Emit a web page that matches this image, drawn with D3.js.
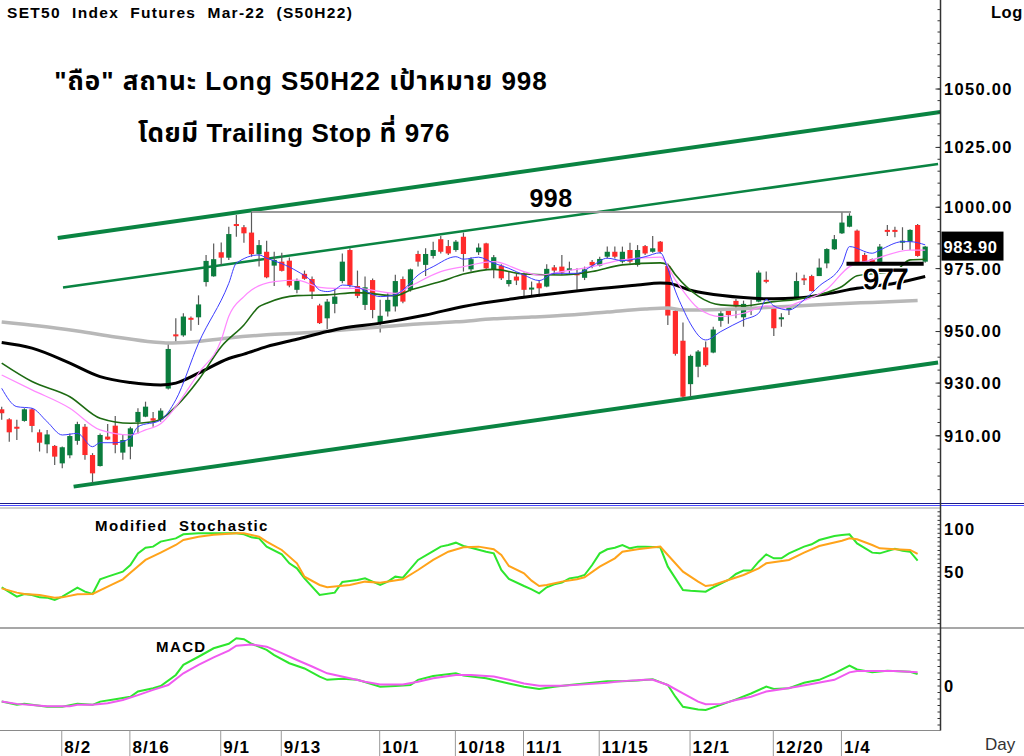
<!DOCTYPE html>
<html>
<head>
<meta charset="utf-8">
<script src="https://cdn.jsdelivr.net/npm/d3@7"></script>
<style>
  body { margin: 0; background: #fff; }
  svg { display: block; font-family: "Liberation Sans", Arial, sans-serif; }
</style>
</head>
<body>
<svg id="chart" width="1024" height="756"></svg>
<script>
// --- data ---
var dates = ["8/2", "8/16", "9/1", "9/13", "10/1", "10/18", "11/1", "11/15", "12/1", "12/20", "1/4"];
var dateBars = [8, 17, 29, 37, 50, 60, 69, 79, 91, 102, 111];

var opens = [920.0,916.2,913.4,915.6,920.0,911.3,906.8,906.2,899.7,902.7,908.1,913.4,902.8,898.7,909.7,913.8,903.7,905.9,915.2,917.2,
  916.6,916.2,927.9,948.9,948.5,955.4,955.6,969.6,971.9,981.6,979.4,993.1,991.8,989.6,980.8,981.8,976.2,977.8,978.2,966.5,
  972.9,970.8,960.3,955.2,960.9,970.0,982.5,968.0,960.5,970.4,953.6,957.9,959.9,970.8,966.5,980.9,976.5,980.1,986.9,984.1,
  982.5,987.9,974.7,981.6,985.2,974.7,976.2,968.8,971.8,972.9,967.1,969.1,967.8,975.5,975.8,974.9,973.1,971.3,977.7,976.2,
  979.8,981.8,977.8,982.5,976.5,984.1,981.8,985.9,976.1,958.1,946.4,929.6,936.3,943.8,941.8,954.2,958.8,962.1,955.6,959.2,
  961.8,970.5,960.1,955.1,959.2,962.9,971.1,972.0,972.0,977.1,982.8,989.3,992.0,990.4,980.5,978.8,977.7,990.7,990.7,985.5,
  985.9,992.7,977.8];
var highs = [921.0,916.6,916.0,920.4,920.4,912.4,912.2,906.5,906.0,910.9,915.3,914.4,903.5,910.9,914.4,917.5,910.3,913.4,920.4,922.9,
  919.0,920.4,945.4,955.2,957.2,955.9,964.3,980.5,985.2,985.6,992.0,996.8,992.7,998.0,986.6,986.3,981.8,981.4,979.5,971.0,
  974.2,971.8,961.0,962.8,966.7,981.1,983.2,974.2,971.8,971.0,962.5,965.1,972.5,971.8,975.0,982.2,983.2,985.9,988.2,986.6,
  986.6,989.6,979.6,985.2,985.5,980.5,976.8,973.8,972.9,973.4,969.8,970.4,976.8,976.5,980.5,977.8,975.1,975.8,978.5,979.8,
  983.9,983.9,983.9,985.5,984.5,984.5,988.2,986.2,977.1,958.5,953.6,941.0,942.8,946.1,951.9,958.5,959.2,962.8,962.2,962.5,
  974.2,973.8,960.5,957.2,960.5,973.4,972.5,972.5,979.1,983.2,988.6,997.8,997.5,990.9,981.4,979.1,985.0,992.7,992.0,991.8,
  991.0,993.1,984.1];
var lows = [916.0,907.8,908.4,915.3,911.3,904.1,903.5,899.1,897.9,901.6,906.6,901.0,892.5,898.5,908.4,903.5,901.0,901.2,910.9,917.0,
  913.4,915.3,927.5,945.4,948.0,950.3,952.6,967.8,971.7,976.5,978.5,987.9,985.5,979.8,975.8,971.1,968.0,973.8,967.5,965.1,
  970.5,962.8,953.0,951.0,957.2,969.1,967.5,963.2,958.5,955.2,949.6,955.9,957.9,961.2,965.8,975.8,972.0,979.1,981.1,980.5,
  981.8,973.8,973.8,980.5,974.4,971.1,970.4,967.8,968.4,963.6,963.8,963.6,967.5,972.5,972.5,972.5,966.5,970.4,975.1,975.8,
  979.1,979.1,977.1,977.1,975.8,980.5,981.4,981.1,952.6,940.6,924.1,924.8,932.2,936.3,941.5,951.9,953.1,955.2,951.9,956.5,
  961.6,969.1,948.3,951.9,956.5,962.9,968.4,965.8,972.0,975.1,982.5,989.0,991.8,977.1,977.4,977.1,977.1,988.2,987.7,982.5,
  982.5,979.8,977.4];
var closes = [918.5,911.3,912.7,920.0,913.7,907.4,910.5,902.2,905.7,909.9,914.4,902.8,896.0,910.3,908.6,906.6,908.4,912.8,919.0,921.0,
  915.7,919.5,943.2,948.5,955.9,955.0,960.7,978.1,978.8,979.4,989.0,992.7,989.3,980.8,984.5,971.5,978.5,974.1,968.2,970.0,
  970.9,965.8,953.3,961.8,963.8,977.8,968.4,964.1,967.5,958.5,956.2,962.5,970.0,961.8,974.7,977.8,980.9,982.5,981.8,981.1,
  985.9,980.9,978.8,983.5,975.1,979.6,971.1,970.4,970.2,966.5,967.4,967.1,974.9,974.2,973.4,975.1,973.0,974.7,976.3,978.9,
  981.8,979.8,981.8,977.8,982.5,981.1,983.2,981.8,956.3,941.3,924.8,940.5,942.2,936.9,950.8,957.2,956.5,959.9,960.9,959.6,
  973.4,970.3,951.3,955.6,959.3,970.0,970.4,966.0,975.4,982.9,986.9,993.7,996.5,977.4,977.8,977.4,983.9,990.3,990.3,986.3,
  990.7,980.1,983.9];

// moving averages as [bar, value]
var maBlue = [[0,928.0],[2,921.0],[4,920.4],[6,915.3],[8,910.3],[10,910.9],[12,905.9],[13,907.4],[15,907.4],[17,909.1],[18,913.4],
  [21,915.9],[23,923.6],[26,945.4],[30,969.1],[31,977.2],[34,980.5],[35,979.2],[37,977.0],[39,974.0],[41,969.8],[42,966.4],
  [43,965.8],[44,966.5],[45,968.4],[47,967.5],[50,963.8],[52,964.5],[53,966.4],[55,972.4],[57,975.8],[60,979.8],[61,978.8],
  [63,979.6],[65,977.2],[67,975.1],[69,972.4],[71,970.2],[73,973.1],[76,973.1],[78,976.1],[80,979.2],[82,978.2],[85,979.8],
  [87,981.4],[88,975.0],[89,966.0],[90,959.0],[91,953.0],[93,946.7],[95,950.0],[98,954.6],[100,957.2],[101,962.7],[102,960.1],
  [104,958.5],[106,962.5],[108,968.0],[111,976.5],[112,983.9],[115,981.2],[116,982.5],[119,985.9],[120,985.9],[122,984.6]];
var maPink = [[0,933.1],[4,927.4],[9,920.4],[13,912.2],[17,910.3],[19,912.2],[21,914.5],[23,921.0],[26,933.8],[29,946.7],[30,956.0],
  [32,963.8],[33,966.4],[36,969.8],[39,970.4],[42,967.5],[44,967.1],[47,967.1],[52,965.1],[54,968.0],[58,973.8],[61,975.8],
  [65,977.8],[69,973.8],[71,972.4],[74,973.8],[78,975.8],[82,978.5],[87,979.6],[89,970.4],[92,959.2],[95,955.9],[98,957.2],
  [101,960.1],[103,959.2],[105,961.2],[109,966.7],[112,975.8],[115,978.5],[120,982.5],[122,982.5]];
var maDkGreen = [[0,937.7],[4,930.6],[9,924.8],[13,916.6],[17,914.7],[20,915.3],[21,916.2],[23,921.0],[26,931.2],[29,944.1],
  [32,952.6],[34,959.8],[35,961.2],[39,964.2],[43,964.5],[47,965.4],[52,964.2],[54,966.4],[58,969.8],[61,972.8],[65,974.7],
  [69,972.8],[74,972.4],[78,973.8],[82,976.5],[87,977.3],[88,976.5],[89,972.5],[92,964.0],[95,960.5],[98,960.1],[102,961.8],
  [105,962.7],[109,965.4],[111,967.8],[113,972.1],[118,974.0],[120,978.5],[122,978.8]];
var maBlack = [[0,945.7],[4,943.5],[9,937.7],[13,932.5],[17,930.2],[21,929.3],[23,930.0],[26,933.8],[30,939.5],[32,941.2],
  [35,944.1],[39,947.0],[43,950.0],[45,951.3],[50,953.3],[56,956.5],[61,959.9],[69,963.5],[78,966.7],[84,968.4],[87,969.2],
  [88,969.1],[91,966.3],[93,965.1],[98,963.4],[102,962.9],[105,963.2],[109,964.9],[113,967.1],[118,969.1],[122,971.8]];
var maGray = [[0,953.8],[5,952.2],[10,950.2],[15,947.9],[20,945.9],[22,945.5],[25,945.9],[30,947.5],[35,948.7],[40,949.5],
  [45,950.6],[50,951.8],[55,953.0],[60,953.8],[65,955.0],[70,955.7],[75,956.5],[80,957.7],[85,958.9],[88,959.3],[90,958.5],
  [95,958.7],[100,959.3],[105,960.1],[110,960.9],[115,961.5],[121,962.2]];

// Modified Stochastic %K (green) and %D (orange)
var stochK = [[0,32.2],[2,21.3],[3,24.4],[4,23.3],[5,20.5],[6,20.2],[7,17.4],[8,21.3],[10,31.8],[11,27.1],[12,24.4],[13,41.5],
  [14,44.6],[16,50.4],[17,58.1],[18,71.7],[19,78.3],[20,79.5],[21,85.3],[23,89.1],[24,93.8],[26,95.0],[28,95.0],[31,95.0],
  [32,93.8],[33,90.3],[34,89.1],[35,79.5],[37,70.5],[38,60.1],[39,54.3],[40,42.6],[42,23.3],[44,26.0],[45,38.4],[46,39.5],
  [47,40.7],[48,42.6],[49,38.8],[50,34.9],[51,38.8],[52,44.6],[53,43.4],[55,64.0],[57,74.4],[58,79.5],[59,81.4],[60,84.1],
  [61,80.2],[62,78.3],[64,73.6],[65,71.7],[66,52.3],[67,42.0],[69,33.7],[70,29.8],[71,25.2],[72,32.2],[73,35.7],[74,37.6],
  [75,42.6],[76,43.8],[77,46.5],[78,58.1],[79,71.7],[80,76.4],[81,78.3],[82,81.4],[83,77.5],[84,79.5],[85,79.5],[87,78.7],
  [88,56.2],[90,29.1],[91,28.3],[93,27.1],[94,32.2],[96,40.7],[97,47.7],[98,51.6],[99,51.6],[100,62.0],[101,70.5],[102,65.9],
  [103,65.9],[104,71.7],[106,79.5],[107,82.2],[108,87.2],[110,91.9],[111,93.0],[112,93.8],[113,83.3],[115,72.5],[116,71.7],
  [118,77.1],[119,74.8],[120,73.6],[121,63.2]];
var stochD = [[0,31.0],[2,26.0],[3,24.4],[5,23.3],[7,20.2],[8,20.5],[10,24.0],[12,24.4],[14,32.9],[16,41.5],[17,49.2],[19,64.0],
  [21,72.5],[23,81.4],[24,87.2],[26,91.1],[28,93.4],[31,95.0],[32,95.0],[34,91.1],[35,85.3],[37,75.6],[39,60.1],[40,44.6],
  [42,34.9],[43,32.2],[46,34.9],[48,38.8],[50,37.6],[53,41.5],[55,52.3],[57,64.0],[59,73.6],[61,78.7],[63,79.5],[65,76.4],
  [66,69.8],[67,57.0],[69,48.4],[70,39.9],[71,33.7],[72,34.9],[74,38.8],[76,41.5],[77,43.8],[79,56.2],[81,65.9],[82,73.6],
  [84,76.4],[87,79.5],[88,69.8],[90,50.4],[92,38.8],[93,33.7],[94,34.9],[96,40.7],[98,46.5],[100,54.3],[101,60.1],[104,64.0],
  [106,72.5],[108,80.2],[111,86.4],[112,89.1],[113,88.0],[115,81.4],[116,77.5],[118,76.4],[120,75.6],[121,71.0]];

// MACD (green) and signal (magenta)
var macd = [[0,-4.8],[2,-5.8],[3,-5.5],[6,-6.4],[8,-6.4],[10,-5.5],[12,-5.8],[13,-4.8],[15,-4.1],[17,-3.3],[18,-1.7],[20,-0.7],
  [21,0.0],[23,3.4],[24,6.5],[26,9.0],[28,11.6],[30,13.0],[31,14.7],[32,14.4],[33,13.0],[35,11.1],[36,9.5],[38,7.0],[40,5.4],
  [42,2.9],[43,1.9],[45,2.2],[47,1.9],[50,-0.2],[52,0.0],[54,0.3],[55,1.9],[57,3.1],[60,3.9],[61,3.2],[64,2.4],[66,1.3],
  [67,0.8],[69,-0.2],[71,-0.9],[73,-0.2],[75,0.3],[77,0.8],[80,1.5],[82,1.5],[84,1.7],[86,2.1],[88,0.3],[89,-3.3],[90,-6.4],
  [92,-7.2],[93,-7.4],[95,-5.8],[97,-4.1],[99,-2.3],[101,-0.2],[102,-0.9],[104,-0.7],[106,1.0],[108,1.9],[110,3.9],[112,6.3],
  [113,5.1],[115,4.2],[117,4.7],[120,4.4],[121,3.7]];
var macdSignal = [[0,-4.8],[2,-5.5],[6,-6.2],[9,-6.2],[10,-5.8],[12,-5.8],[14,-5.3],[16,-4.3],[18,-2.8],[20,-1.2],[22,0.3],
  [24,3.9],[26,6.5],[28,8.8],[30,10.9],[31,12.4],[33,12.8],[35,12.1],[37,10.1],[39,8.0],[41,6.0],[43,3.9],[46,2.4],[48,1.3],
  [50,0.5],[53,0.5],[55,1.3],[57,2.4],[60,3.4],[62,3.4],[65,2.9],[67,1.9],[69,0.8],[71,0.1],[74,0.1],[77,0.5],[80,1.0],
  [82,1.5],[85,1.9],[86,1.9],[88,0.3],[90,-2.3],[92,-4.8],[93,-5.6],[95,-5.5],[97,-4.3],[99,-3.3],[101,-1.7],[103,-1.0],
  [105,-0.2],[107,0.6],[110,1.9],[112,4.2],[113,4.6],[116,4.6],[118,4.6],[121,4.2]];

// trend channel lines: [bar, price] -> [bar, price]
var channels = [
  [[7.4, 987.4], [124, 1040.1]],
  [[8.1, 967.4], [123.7, 1018.0]],
  [[9.5, 891.1], [123.7, 937.9]]
];
var channelWidths = [4, 2.5, 4];
var resistance = {price: 998, from: 33, to: 112.2, label: "998"};
var support = {price: 977, from: 111.6, to: 121.8, label: "977"};
var lastPrice = 983.90;

var priceTicks = [1050, 1025, 1000, 975, 950, 930, 910];
var stochTicks = [100, 50];
var macdTicks = [0];

// --- drawing ---
var svg = d3.select("#chart");
var W = 1024, axisX = 940.5;
var mainBottom = 503, stTop = 508, stBottom = 628, mcTop = 629, mcBottom = 730.5;

var x = d3.scaleLinear().domain([0, 122]).range([1.7, 925.2]);
var y = d3.scaleLog().domain([885.1, 1089.3]).range([mainBottom, 0]);
var ys = d3.scaleLinear().domain([0, 100]).range([615, 529]);
var ym = d3.scaleLinear().domain([0, 10]).range([686, 653.5]);

var boldStyle = function(sel, size, spacing) {
  return sel.attr("font-size", size).attr("font-weight", "bold").attr("letter-spacing", spacing);
};

// clip plot areas
var defs = svg.append("defs");
defs.append("clipPath").attr("id", "clipMain").append("rect").attr("x", 0).attr("y", 0).attr("width", axisX).attr("height", mainBottom);
defs.append("clipPath").attr("id", "clipSt").append("rect").attr("x", 0).attr("y", stTop).attr("width", axisX).attr("height", stBottom - stTop);
defs.append("clipPath").attr("id", "clipMc").append("rect").attr("x", 0).attr("y", mcTop).attr("width", axisX).attr("height", mcBottom - mcTop);

var main = svg.append("g").attr("clip-path", "url(#clipMain)");

// channel lines
channels.forEach(function(c, i) {
  main.append("line")
    .attr("x1", x(c[0][0])).attr("y1", y(c[0][1]))
    .attr("x2", x(c[1][0])).attr("y2", y(c[1][1]))
    .attr("stroke", "#0a8442").attr("stroke-width", channelWidths[i]);
});

// resistance 998
main.append("line")
  .attr("x1", x(resistance.from)).attr("x2", x(resistance.to))
  .attr("y1", y(resistance.price)).attr("y2", y(resistance.price))
  .attr("stroke", "#999").attr("stroke-width", 2);

var lineFn = function(ys_) {
  return d3.line().x(function(d) { return x(d[0]); }).y(function(d) { return ys_(d[1]); }).curve(d3.curveMonotoneX);
};
var maList = [
  [maGray, "#b8b8b8", 3.5],
  [maBlack, "#000", 3],
  [maDkGreen, "#1d6a12", 1.6],
  [maPink, "#ff88ff", 1.2],
  [maBlue, "#3d3dff", 1]
];

// candles
var bars = d3.range(opens.length);
main.selectAll(".wick").data(bars).enter().append("line")
  .attr("class", "wick")
  .attr("x1", function(i) { return x(i); }).attr("x2", function(i) { return x(i); })
  .attr("y1", function(i) { return y(highs[i]); }).attr("y2", function(i) { return y(lows[i]); })
  .attr("stroke", "#5a5a5a").attr("stroke-width", 1.2);
main.selectAll(".body").data(bars).enter().append("rect")
  .attr("class", "body")
  .attr("x", function(i) { return x(i) - 2.6; })
  .attr("width", 5.2)
  .attr("y", function(i) { return y(Math.max(opens[i], closes[i])); })
  .attr("height", function(i) { return Math.max(2, y(Math.min(opens[i], closes[i])) - y(Math.max(opens[i], closes[i]))); })
  .attr("fill", function(i) { return closes[i] >= opens[i] ? "#0b7d3e" : "#ff2b2b"; });

// moving averages over the candles
maList.forEach(function(m) {
  main.append("path").datum(m[0]).attr("d", lineFn(y))
    .attr("fill", "none").attr("stroke", m[1]).attr("stroke-width", m[2]);
});

// support 977
main.append("line")
  .attr("x1", x(support.from)).attr("x2", x(support.to))
  .attr("y1", y(support.price)).attr("y2", y(support.price))
  .attr("stroke", "#000").attr("stroke-width", 4);

// labels on the main panel
boldStyle(svg.append("text"), 25, 0.5)
  .attr("x", 551).attr("y", 207).attr("text-anchor", "middle").text(resistance.label);
svg.append("text")
  .attr("x", 885).attr("y", 289).attr("text-anchor", "middle")
  .attr("font-size", 29).attr("letter-spacing", -1.5).attr("fill", "#000")
  .attr("stroke", "#fff").attr("stroke-width", 4).attr("paint-order", "stroke")
  .text(support.label);
svg.append("text")
  .attr("x", 885).attr("y", 289).attr("text-anchor", "middle")
  .attr("font-size", 29).attr("letter-spacing", -1.5).attr("fill", "#000")
  .attr("stroke", "#000").attr("stroke-width", 0.9)
  .text(support.label);

boldStyle(svg.append("text"), 15.5, 1.3).attr("x", 7).attr("y", 18)
  .text("SET50\u00a0\u00a0Index\u00a0\u00a0Futures\u00a0\u00a0Mar-22\u00a0\u00a0(S50H22)");
var thaiFont = "'Liberation Sans', Arial, Tahoma, 'Noto Sans Thai', sans-serif";
boldStyle(svg.append("text"), 26, 1).attr("x", 301).attr("y", 90).attr("text-anchor", "middle")
  .attr("font-family", thaiFont)
  .text('"ถือ" สถานะ Long S50H22 เป้าหมาย 998');
boldStyle(svg.append("text"), 26, 0.6).attr("x", 294).attr("y", 142).attr("text-anchor", "middle")
  .attr("font-family", thaiFont)
  .text("โดยมี Trailing Stop ที่ 976");

boldStyle(svg.append("text"), 16.5, 0.5).attr("x", 991).attr("y", 18).text("Log");

// separators
svg.append("line").attr("x1", 0).attr("x2", W).attr("y1", 503.5).attr("y2", 503.5).attr("stroke", "#1a1a8c").attr("stroke-width", 1);
svg.append("line").attr("x1", 0).attr("x2", W).attr("y1", 505.5).attr("y2", 505.5).attr("stroke", "#4a4aff").attr("stroke-width", 1.2);
svg.append("line").attr("x1", 0).attr("x2", axisX).attr("y1", stTop).attr("y2", stTop).attr("stroke", "#a0a0a0").attr("stroke-width", 1);
svg.append("line").attr("x1", 0).attr("x2", W).attr("y1", stBottom).attr("y2", stBottom).attr("stroke", "#8a8a8a").attr("stroke-width", 1.5);
svg.append("line").attr("x1", 0).attr("x2", axisX).attr("y1", mcBottom).attr("y2", mcBottom).attr("stroke", "#8a8a8a").attr("stroke-width", 1);

// stochastic panel
var st = svg.append("g").attr("clip-path", "url(#clipSt)");
var stLine = d3.line().x(function(d) { return x(d[0]); }).y(function(d) { return ys(d[1]); });
st.append("path").datum(stochK).attr("d", stLine).attr("fill", "none").attr("stroke", "#2ee62e").attr("stroke-width", 2);
st.append("path").datum(stochD).attr("d", stLine).attr("fill", "none").attr("stroke", "#ffa31a").attr("stroke-width", 2);
boldStyle(svg.append("text"), 15, 1.4).attr("x", 95).attr("y", 531).text("Modified\u00a0\u00a0Stochastic");

// MACD panel
var mc = svg.append("g").attr("clip-path", "url(#clipMc)");
var mcLine = d3.line().x(function(d) { return x(d[0]); }).y(function(d) { return ym(d[1]); });
mc.append("path").datum(macd).attr("d", mcLine).attr("fill", "none").attr("stroke", "#2ee62e").attr("stroke-width", 2);
mc.append("path").datum(macdSignal).attr("d", mcLine).attr("fill", "none").attr("stroke", "#f05af0").attr("stroke-width", 2);
boldStyle(svg.append("text"), 15, 1.4).attr("x", 156).attr("y", 652).text("MACD");

// right axis
svg.append("line").attr("x1", axisX).attr("x2", axisX).attr("y1", 0).attr("y2", mcBottom)
  .attr("stroke", "#333").attr("stroke-width", 1.5);

var minorPrice = d3.range(890, 1090, 5);
svg.selectAll(".pmin").data(minorPrice).enter().append("line")
  .attr("x1", axisX - 3).attr("x2", axisX)
  .attr("y1", function(d) { return y(d); }).attr("y2", function(d) { return y(d); })
  .attr("stroke", "#333");
svg.selectAll(".pmaj").data(priceTicks).enter().append("line")
  .attr("x1", axisX - 5).attr("x2", axisX)
  .attr("y1", function(d) { return y(d); }).attr("y2", function(d) { return y(d); })
  .attr("stroke", "#333");
boldStyle(svg.selectAll(".plab").data(priceTicks).enter().append("text"), 16.5, 1.3)
  .attr("x", 944).attr("y", function(d) { return y(d); }).attr("dy", "0.36em")
  .text(function(d) { return d3.format(".2f")(d); });

// last price box
var lp = svg.append("g");
lp.append("rect").attr("x", 941.5).attr("y", y(lastPrice) - 15).attr("width", 62).attr("height", 29).attr("fill", "#000");
boldStyle(lp.append("text"), 16.5, 0.6).attr("x", 943.5).attr("y", y(lastPrice)).attr("dy", "0.36em")
  .attr("fill", "#fff").text(d3.format(".2f")(lastPrice));

var minorSt = d3.range(-10, 125, 5);
svg.selectAll(".smin").data(minorSt).enter().append("line")
  .attr("x1", axisX - 3).attr("x2", axisX)
  .attr("y1", function(d) { return ys(d); }).attr("y2", function(d) { return ys(d); })
  .attr("stroke", "#333");
boldStyle(svg.selectAll(".slab").data(stochTicks).enter().append("text"), 16.5, 1.3)
  .attr("x", 944).attr("y", function(d) { return ys(d); }).attr("dy", "0.36em")
  .text(function(d) { return d; });

var minorMc = d3.range(-12, 17, 2);
svg.selectAll(".mmin").data(minorMc).enter().append("line")
  .attr("x1", axisX - 3).attr("x2", axisX)
  .attr("y1", function(d) { return ym(d); }).attr("y2", function(d) { return ym(d); })
  .attr("stroke", "#333");
boldStyle(svg.selectAll(".mlab").data(macdTicks).enter().append("text"), 16.5, 1.3)
  .attr("x", 944).attr("y", function(d) { return ym(d); }).attr("dy", "0.36em")
  .text(function(d) { return d; });

// date axis
svg.selectAll(".dtick").data(dateBars).enter().append("line")
  .attr("x1", function(b) { return x(b) - 0.5; }).attr("x2", function(b) { return x(b) - 0.5; })
  .attr("y1", mcBottom).attr("y2", 756)
  .attr("stroke", "#9a9a9a");
boldStyle(svg.selectAll(".dlab").data(dateBars).enter().append("text"), 17, 1.1)
  .attr("x", function(b) { return x(b) + 2; }).attr("y", 753)
  .text(function(b, i) { return dates[i]; });
svg.append("text").attr("x", 985).attr("y", 750).attr("font-size", 17).attr("fill", "#333").text("Day");
</script>
</body>
</html>
